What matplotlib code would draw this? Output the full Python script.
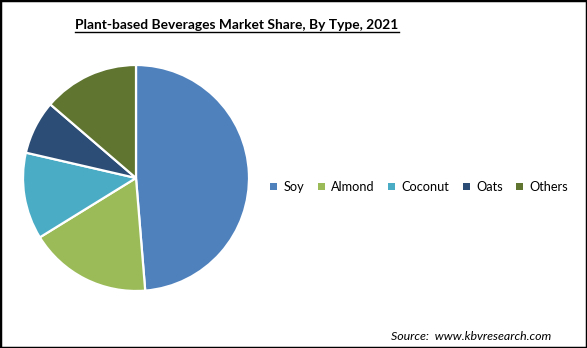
import matplotlib
matplotlib.use("Agg")
import matplotlib.pyplot as plt
from matplotlib.patches import Rectangle
from matplotlib.lines import Line2D

categories = ["Soy", "Almond", "Coconut", "Oats", "Others"]
shares = [48.7, 17.5, 12.4, 7.7, 13.7]
colors = ["#4F81BD", "#9BBB59", "#4BACC6", "#2C4D75", "#5F7530"]
title = "Plant-based Beverages Market Share, By Type, 2021"
source = "Source:  www.kbvresearch.com"

W, H = 587, 348
fig = plt.figure(figsize=(W/100, H/100), dpi=100)
fig.patch.set_facecolor("white")

cx, cy, r = 136, 178, 113
ax = fig.add_axes([(cx - r)/W, (H - cy - r)/H, 2*r/W, 2*r/H])
ax.pie(shares, colors=colors, startangle=90, counterclock=False,
       wedgeprops=dict(edgecolor="white", linewidth=1.6))
ax.set_xlim(-1, 1)
ax.set_ylim(-1, 1)
ax.set_aspect("equal")
ax.axis("off")

fig.text(237/W, 1 - 25/H, title, ha="center", va="center",
         fontsize=9.9, fontweight="bold", family="Lato")
# underline
tt = fig.texts[-1]
fig.canvas.draw()
bb = tt.get_window_extent()
fig.add_artist(Line2D([bb.x0/W, bb.x1/W], [(bb.y0 - 1)/H, (bb.y0 - 1)/H],
                      color="black", linewidth=1.0, transform=fig.transFigure))

handles = [Rectangle((0, 0), 1, 1, facecolor=c, edgecolor="none") for c in colors]
fig.legend(handles, categories, loc="center", bbox_to_anchor=(419/W, 1 - 187/H),
           ncol=5, frameon=False, handlelength=0.55, handleheight=0.55,
           handletextpad=0.5, columnspacing=1.05,
           prop=dict(family="Lato", size=9.2))

fig.text(551/W, 1 - 337/H, source, ha="right", va="center",
         fontsize=8.9, style="italic", family="Lato")

fig.add_artist(Rectangle((0, 0), 1, 1, transform=fig.transFigure,
                         fill=False, edgecolor="black", linewidth=2.5))

fig.savefig("out.png", dpi=100)
